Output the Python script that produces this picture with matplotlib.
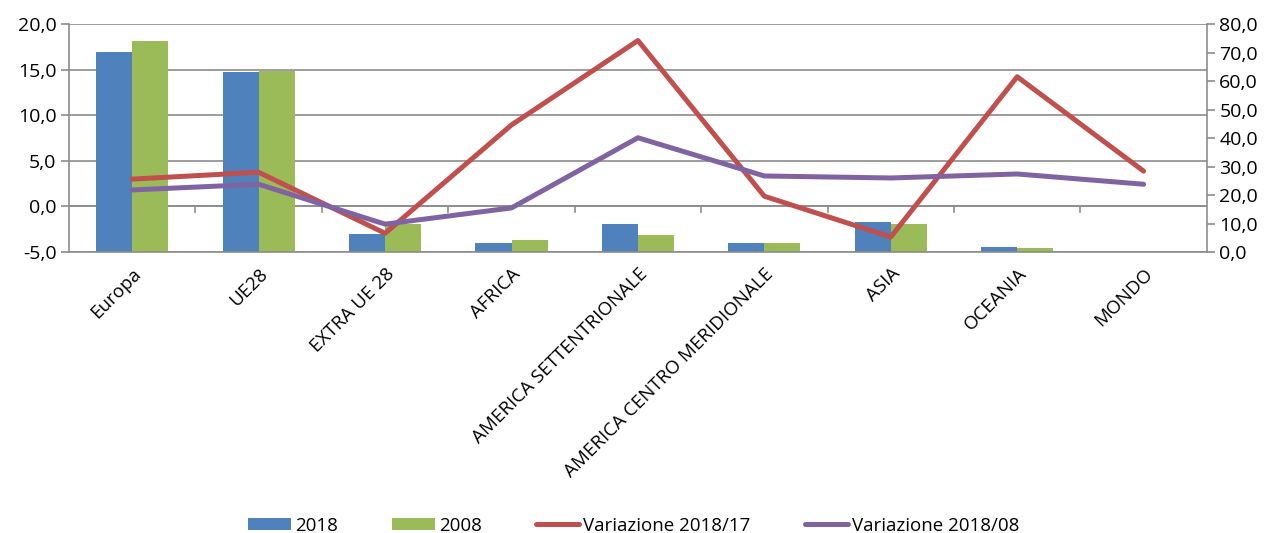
import numpy as np
import matplotlib.pyplot as plt
from matplotlib.ticker import FuncFormatter, MultipleLocator

aree = ['Europa', 'UE28', 'EXTRA UE 28', 'AFRICA', 'AMERICA SETTENTRIONALE',
        'AMERICA CENTRO MERIDIONALE', 'ASIA', 'OCEANIA', 'MONDO']
val_2018 = [16.9, 14.7, -3.0, -4.05, -1.9, -3.95, -1.75, -4.4, np.nan]
val_2008 = [18.1, 14.8, -1.9, -3.65, -3.1, -4.05, -1.9, -4.5, np.nan]
var_1817 = [25.6, 28.0, 6.6, 44.6, 74.2, 19.6, 5.3, 61.5, 28.4]
var_1808 = [21.8, 23.8, 9.8, 15.5, 40.1, 26.7, 26.0, 27.4, 23.8]

blu, verde, rosso, viola = '#4F81BD', '#9BBB59', '#C0504D', '#8064A2'
grigio = '#8c8c8c'

plt.rcParams['font.family'] = ['Open Sans', 'DejaVu Sans']

def virgola(v, pos):
    return f"{v:.1f}".replace('.', ',')

fig = plt.figure(figsize=(12.67, 5.33), dpi=100)
ax = fig.add_axes([0.0545, 0.527, 0.898, 0.428])
x = np.arange(len(aree))
w = 0.285
base = -5
ax.bar(x - w/2, np.array(val_2018) - base, w, bottom=base, color=blu,
       label='2018', zorder=2)
ax.bar(x + w/2, np.array(val_2008) - base, w, bottom=base, color=verde,
       label='2008', zorder=2)
ax.set_ylim(-5, 20)
ax.set_xlim(-0.5, len(aree) - 0.5)
ax.yaxis.set_major_locator(MultipleLocator(5))
ax.yaxis.set_major_formatter(FuncFormatter(virgola))
ax.grid(axis='y', color=grigio, lw=1.2, zorder=0)
ax.set_axisbelow(True)

# asse categorie sullo zero, con tacche tra le categorie
ax.axhline(0, color=grigio, lw=1.2, zorder=1)
for b in np.arange(0.5, len(aree) - 0.5, 1):
    ax.plot([b, b], [0, -0.6], color=grigio, lw=1.2, zorder=1, clip_on=False)

ax.set_xticks(x)
ax.set_xticklabels(aree, rotation=45, ha='right', va='top',
                   rotation_mode='anchor', fontsize=13.5)
ax.tick_params(axis='x', length=0, pad=9)
ax.tick_params(axis='y', labelsize=14, color=grigio, length=6, width=1.2,
               pad=3)
for s in ['top', 'right']:
    ax.spines[s].set_visible(False)
for s in ['left', 'bottom']:
    ax.spines[s].set_color(grigio)
    ax.spines[s].set_linewidth(1.2)

ax2 = ax.twinx()
ax2.plot(x, var_1817, color=rosso, lw=3.6, label='Variazione 2018/17',
         solid_capstyle='round', zorder=3)
ax2.plot(x, var_1808, color=viola, lw=3.6, label='Variazione 2018/08',
         solid_capstyle='round', zorder=3)
ax2.set_ylim(0, 80)
ax2.yaxis.set_major_locator(MultipleLocator(10))
ax2.yaxis.set_major_formatter(FuncFormatter(virgola))
ax2.tick_params(axis='y', labelsize=14, color=grigio, length=6, width=1.2,
                pad=3)
for s in ['top', 'left', 'bottom']:
    ax2.spines[s].set_visible(False)
ax2.spines['right'].set_color(grigio)
ax2.spines['right'].set_linewidth(1.2)

h1, l1 = ax.get_legend_handles_labels()
h2, l2 = ax2.get_legend_handles_labels()
fig.legend(h1 + h2, l1 + l2, loc='lower center', bbox_to_anchor=(0.5, -0.035),
           ncol=4, frameon=False, fontsize=13.5, handlelength=2.3,
           handleheight=0.6, columnspacing=2.9, handletextpad=0.2)

fig.savefig('out.png', dpi=100)
